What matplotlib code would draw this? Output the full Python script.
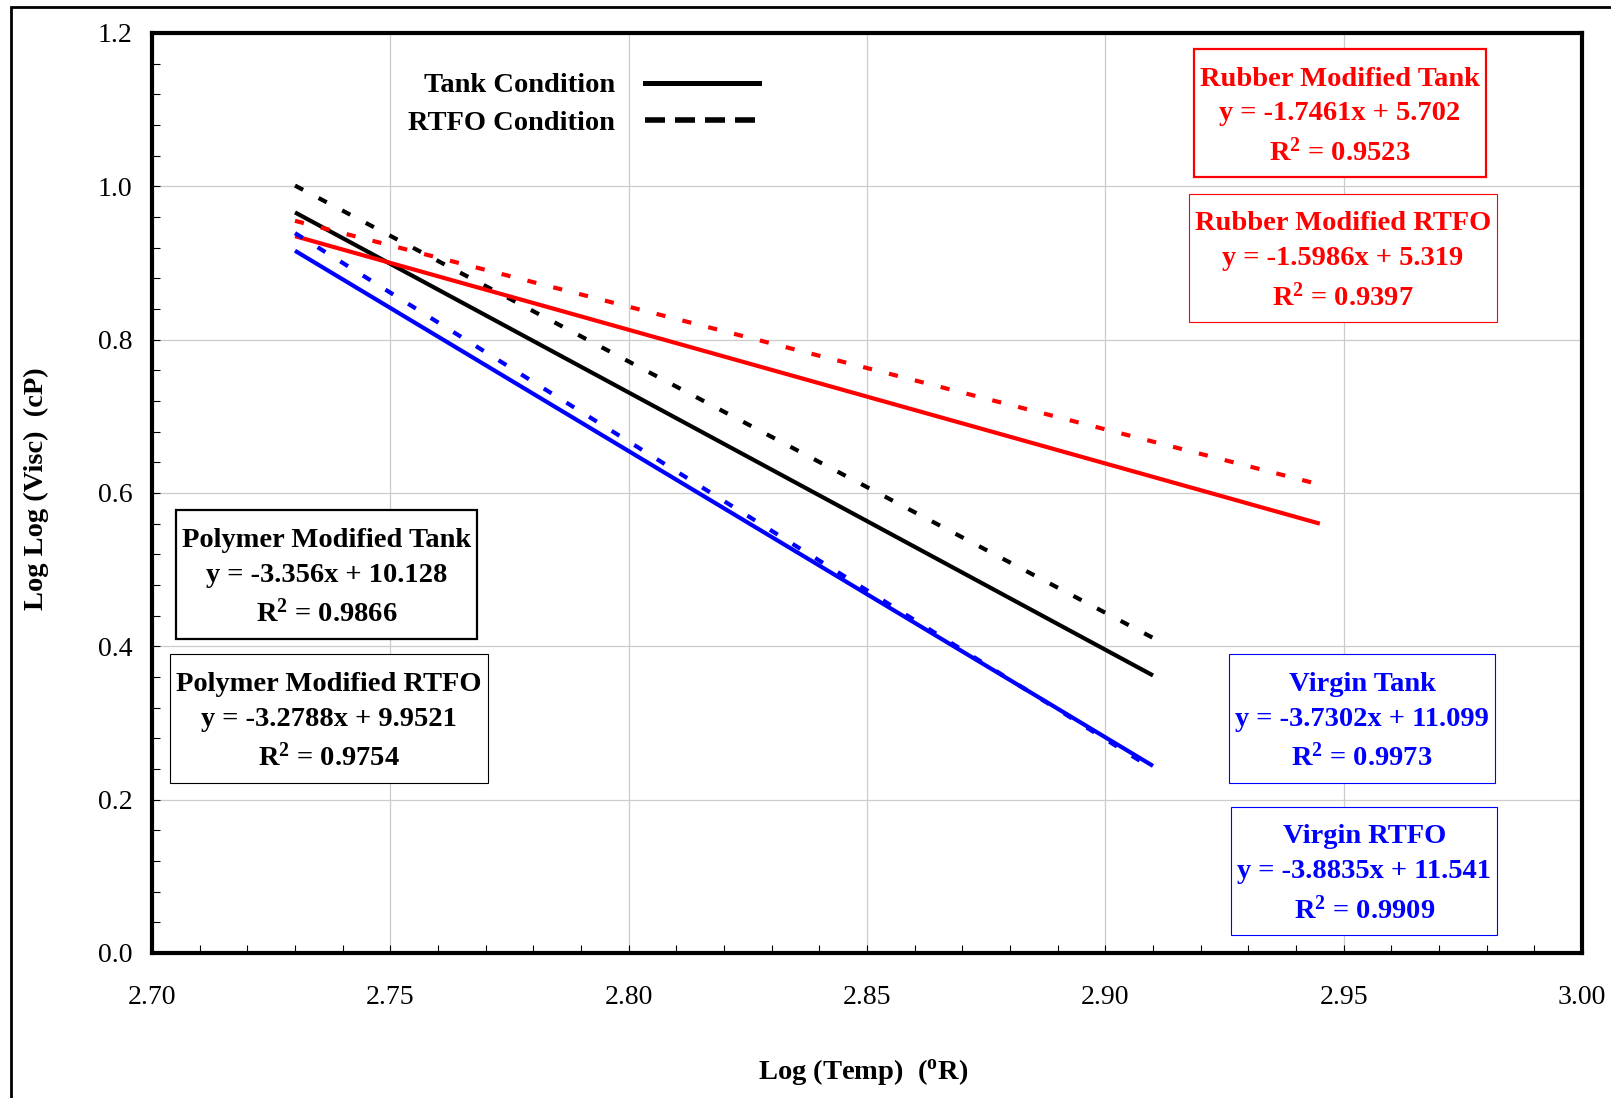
import matplotlib
matplotlib.use("Agg")
import matplotlib.pyplot as plt
from matplotlib.lines import Line2D
from matplotlib.patches import Rectangle
from matplotlib.ticker import MultipleLocator

plt.rcParams['font.family'] = ['Liberation Serif', 'DejaVu Serif']
plt.rcParams['mathtext.fontset'] = 'custom'
plt.rcParams['mathtext.rm'] = 'Liberation Serif:bold'
plt.rcParams['mathtext.bf'] = 'Liberation Serif:bold'
plt.rcParams['mathtext.default'] = 'bf'

# trend line end points (log temp, log log visc)
log_temp_short = [2.73, 2.91]
log_temp_long = [2.73, 2.945]
polymer_tank = [0.966, 0.362]
polymer_rtfo = [1.001, 0.411]
virgin_tank = [0.916, 0.244]
virgin_rtfo = [0.939, 0.240]
rubber_tank = [0.935, 0.560]
rubber_rtfo = [0.955, 0.611]

x_ticks = [2.70, 2.75, 2.80, 2.85, 2.90, 2.95, 3.00]
y_ticks = [0.0, 0.2, 0.4, 0.6, 0.8, 1.0, 1.2]

# equation boxes: text, colour, edge width, centre (axes fraction)
box_texts = [
    ("Rubber Modified Tank\ny = -1.7461x + 5.702\nR$^2$ = 0.9523", 'red', 1.6, 0.8308, 0.9130),
    ("Rubber Modified RTFO\ny = -1.5986x + 5.319\nR$^2$ = 0.9397", 'red', 0.8, 0.8329, 0.7554),
    ("Polymer Modified Tank\ny = -3.356x + 10.128\nR$^2$ = 0.9866", 'black', 1.6, 0.1220, 0.4114),
    ("Polymer Modified RTFO\ny = -3.2788x + 9.9521\nR$^2$ = 0.9754", 'black', 0.8, 0.1238, 0.2549),
    ("Virgin Tank\ny = -3.7302x + 11.099\nR$^2$ = 0.9973", 'blue', 0.8, 0.8462, 0.2549),
    ("Virgin RTFO\ny = -3.8835x + 11.541\nR$^2$ = 0.9909", 'blue', 0.8, 0.8479, 0.0891),
]

W, H = 1611, 1098
fig = plt.figure(figsize=(W / 100, H / 100), dpi=100)
ax = fig.add_axes([152 / W, 145 / H, 1430 / W, 920 / H])

dash = (2.2, 4.2)
lw = 3.0
ax.plot(log_temp_short, polymer_tank, color='black', lw=lw, solid_capstyle='butt')
ax.plot(log_temp_short, polymer_rtfo, color='black', lw=lw, dashes=dash)
ax.plot(log_temp_long, rubber_tank, color='red', lw=lw, solid_capstyle='butt')
ax.plot(log_temp_long, rubber_rtfo, color='red', lw=lw, dashes=dash)
ax.plot(log_temp_short, virgin_tank, color='blue', lw=lw, solid_capstyle='butt')
ax.plot(log_temp_short, virgin_rtfo, color='blue', lw=lw, dashes=dash)

ax.set_xlim(2.70, 3.00)
ax.set_ylim(0.0, 1.2)
ax.set_xticks(x_ticks)
ax.set_xticklabels([f"{v:.2f}" for v in x_ticks])
ax.set_yticks(y_ticks)
ax.set_yticklabels([f"{v:.1f}" for v in y_ticks])
ax.xaxis.set_minor_locator(MultipleLocator(0.01))
ax.yaxis.set_minor_locator(MultipleLocator(0.04))
ax.tick_params(which='both', direction='in', length=5.5, width=0.8, labelsize=20)
ax.tick_params(axis='x', which='major', pad=23)
ax.tick_params(axis='y', which='major', pad=14)
ax.grid(True, which='major', color='#cccccc', lw=0.9)
ax.set_axisbelow(True)
for s in ax.spines.values():
    s.set_linewidth(3)

ax.set_xlabel("Log (Temp)  ($^{\\mathrm{o}}$R)", fontsize=20.5, fontweight='bold', va='center')
ax.xaxis.set_label_coords(0.497, -0.129)
ax.set_ylabel("Log Log (Visc)  (cP)", fontsize=20.5, fontweight='bold', va='center')
ax.yaxis.set_label_coords(-0.081, 0.505)

shift = 3.5  # text sits a little low in its box
texts = []
for txt, col, ew, bx, by in box_texts:
    t = ax.text(bx, by - shift / 920, txt, transform=ax.transAxes, ha='center', va='center',
                multialignment='center', fontsize=20.5, fontweight='bold', color=col,
                linespacing=1.52, zorder=6)
    texts.append((t, col, ew))

handles = [
    Line2D([], [], color='black', lw=3.6, label='Tank Condition'),
    Line2D([], [], color='black', lw=4.0, dashes=(3.6, 1.8), label='RTFO Condition'),
]
ax.legend(handles=handles, loc='upper right', bbox_to_anchor=(0.4245, 0.957),
          frameon=False, markerfirst=False, prop={'size': 20.5, 'weight': 'bold'},
          handlelength=4.0, handletextpad=1.05, labelspacing=0.4,
          borderpad=0, borderaxespad=0)

# boxes around the equation texts, padded more vertically than horizontally
fig.canvas.draw()
renderer = fig.canvas.get_renderer()
padx, pady = 6, 14
for t, col, ew in texts:
    bb = t.get_window_extent(renderer)
    y0 = bb.y0 - pady + shift
    y1 = bb.y1 + pady + shift
    rect = Rectangle(((bb.x0 - padx) / W, y0 / H),
                     (bb.width + 2 * padx) / W, (y1 - y0) / H,
                     transform=fig.transFigure, fc='white', ec=col, lw=ew, zorder=5)
    ax.add_artist(rect)

# outer chart frame (cropped at right and bottom)
fig.add_artist(Rectangle((11 / W, -0.1), 1.2, (H - 7) / H + 0.1,
                         transform=fig.transFigure, fill=False, ec='black', lw=2))

fig.savefig("out.png", dpi=100)
